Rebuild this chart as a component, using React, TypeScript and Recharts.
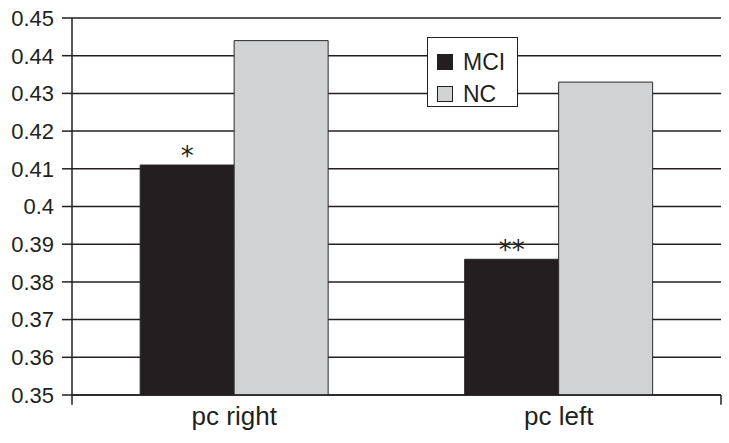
import React from "react";
import {
  BarChart,
  Bar,
  XAxis,
  YAxis,
  CartesianGrid,
  Legend,
  LabelList,
  ReferenceLine,
} from "recharts";

const categories = ["pc right", "pc left"];
const mciValues = [0.411, 0.386];
const ncValues = [0.444, 0.433];
const mciMarks = ["*", "**"];
const yTicks = [0.35, 0.36, 0.37, 0.38, 0.39, 0.4, 0.41, 0.42, 0.43, 0.44, 0.45];
const edgeTicks = [0, 1, 2];

const Y_MIN = 0.35;
const Y_MAX = 0.45;
const TICK_DEPTH = 0.0026; // tick mark length below the axis, in value units

const INK = "#231f20";
const FONT = "'Liberation Sans', Arial, sans-serif";

const data = categories.map((c, i) => ({
  name: c,
  MCI: mciValues[i],
  NC: ncValues[i],
  mark: mciMarks[i],
}));

const renderLegend = (props: any) => {
  const items = props.payload || [];
  return (
    <div
      style={{
        width: 91,
        height: 70,
        boxSizing: "border-box",
        border: `1.5px solid ${INK}`,
        background: "#fff",
        padding: "8px 0 0 9px",
        fontFamily: FONT,
        fontSize: 23,
        color: INK,
      }}
    >
      {items.map((it: any) => (
        <div
          key={it.value}
          style={{ display: "flex", alignItems: "center", height: 32, lineHeight: "32px" }}
        >
          <span
            style={{
              display: "inline-block",
              width: 16,
              height: 16,
              boxSizing: "border-box",
              background: it.color,
              border: `1.2px solid ${INK}`,
              marginRight: 10,
            }}
          />
          <span>{it.value}</span>
        </div>
      ))}
    </div>
  );
};

export default function App() {
  return (
    <div style={{ position: "absolute", left: 0, top: 0, background: "#fff" }}>
      <BarChart
        width={729}
        height={443}
        data={data}
        margin={{ top: 18, right: 8, bottom: 0, left: 0 }}
        barCategoryGap="21%"
        barGap={0}
      >
        <CartesianGrid vertical={false} stroke={INK} strokeWidth={1.5} />
        <XAxis
          xAxisId="edges"
          type="number"
          domain={[0, edgeTicks.length - 1]}
          ticks={edgeTicks}
          hide
          allowDataOverflow
        />
        <XAxis
          dataKey="name"
          height={48}
          tickLine={false}
          axisLine={{ stroke: INK, strokeWidth: 1.5 }}
          tickMargin={6}
          tick={{ fill: INK, fontSize: 26, fontFamily: FONT }}
        />
        <YAxis
          domain={[Y_MIN, Y_MAX]}
          ticks={yTicks}
          width={72}
          tickSize={10}
          tickMargin={8}
          tickLine={{ stroke: INK, strokeWidth: 1.5 }}
          axisLine={{ stroke: INK, strokeWidth: 1.5 }}
          tick={{ fill: INK, fontSize: 22, fontFamily: FONT }}
          tickFormatter={(v: number) => String(v)}
          allowDataOverflow
        />
        <YAxis
          yAxisId="right"
          orientation="right"
          domain={[Y_MIN, Y_MAX]}
          width={0}
          tick={false}
          tickLine={false}
          axisLine={{ stroke: INK, strokeWidth: 1.5 }}
        />
        {edgeTicks.map((t) => (
          <ReferenceLine
            key={t}
            xAxisId="edges"
            ifOverflow="visible"
            stroke={INK}
            strokeWidth={1.5}
            segment={[
              { x: t, y: Y_MIN },
              { x: t, y: Y_MIN - TICK_DEPTH },
            ]}
          />
        ))}
        <Legend
          layout="vertical"
          align="center"
          verticalAlign="middle"
          content={renderLegend}
          wrapperStyle={{ left: 427, top: 37, width: 91, height: 70 }}
        />
        <Bar
          dataKey="MCI"
          name="MCI"
          fill={INK}
          stroke="#2a2a2a"
          strokeWidth={1}
          isAnimationActive={false}
        >
          <LabelList
            dataKey="mark"
            position="top"
            offset={0}
            fill={INK}
            fontSize={26}
            fontFamily="'DejaVu Sans', sans-serif"
          />
        </Bar>
        <Bar
          dataKey="NC"
          name="NC"
          fill="#d1d2d4"
          stroke="#2a2a2a"
          strokeWidth={1}
          isAnimationActive={false}
        />
      </BarChart>
    </div>
  );
}
